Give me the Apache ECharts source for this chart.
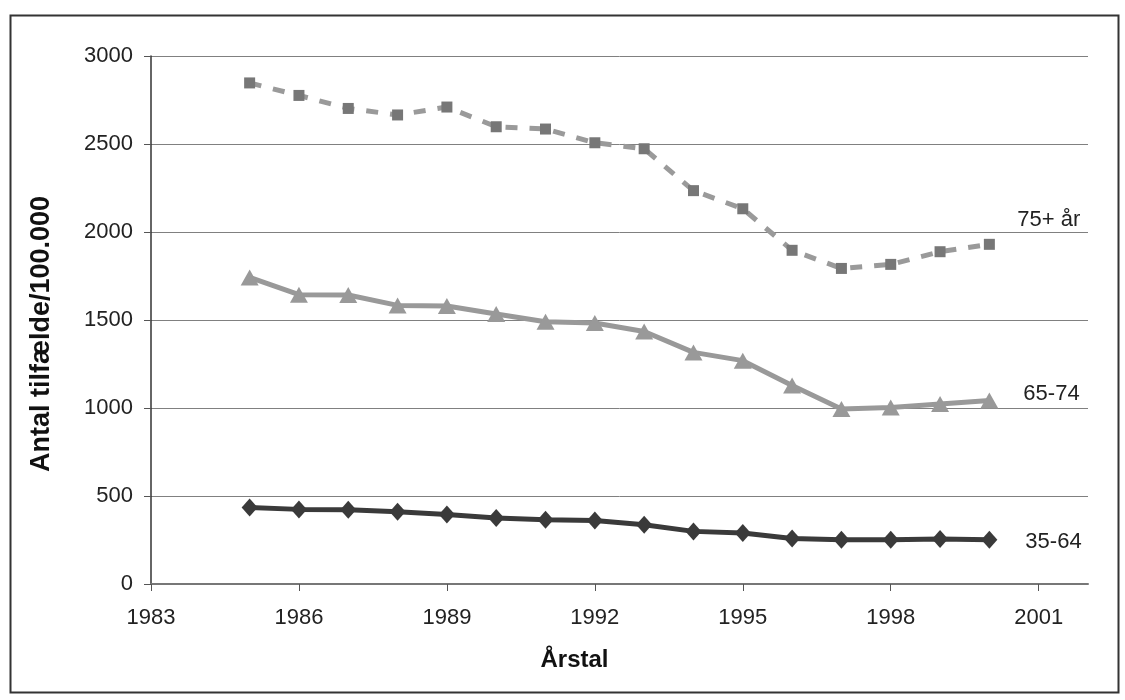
<!DOCTYPE html>
<html>
<head>
<meta charset="utf-8">
<script src="https://cdn.jsdelivr.net/npm/echarts@6/dist/echarts.min.js"></script>
<style>
html,body{margin:0;padding:0;background:#fff;}
#c{width:1125px;height:700px;}
</style>
</head>
<body>
<div id="c"></div>
<script>
var years = [1985,1986,1987,1988,1989,1990,1991,1992,1993,1994,1995,1996,1997,1998,1999,2000];
var age75plus = [2847,2776,2702,2665,2710,2598,2585,2507,2473,2235,2132,1896,1793,1816,1888,1930];
var age65to74 = [1742,1644,1642,1583,1580,1534,1490,1483,1435,1316,1269,1128,994,1003,1023,1043];
var age35to64 = [435,424,422,411,395,375,365,361,337,299,290,259,252,252,256,252];
var seriesNames = ['75+ år','65-74','35-64'];
var xTicks = [1983,1986,1989,1992,1995,1998,2001];
var yTicks = [0,500,1000,1500,2000,2500,3000];

function pairs(v){ return years.map(function(y,i){ return [y, v[i]]; }); }

var font = 'Liberation Sans, Arial, sans-serif';
var chart = echarts.init(document.getElementById('c'), null, {renderer:'canvas'});
chart.setOption({
  animation:false,
  backgroundColor:'#fff',
  graphic:[{type:'rect', left:8, top:13, shape:{width:1108, height:677}, style:{fill:'none', stroke:'#333', lineWidth:2}, silent:true}],
  grid:{left:151, top:56, right:37, bottom:116, containLabel:false},
  xAxis:{
    type:'value', min:1983, max:2002, interval:3,
    name:'Årstal', nameLocation:'middle', nameGap:64,
    nameTextStyle:{fontFamily:font, fontSize:24, fontWeight:'bold', color:'#111', padding:[0,90,0,0]},
    axisLine:{show:true, lineStyle:{color:'#777', width:2}},
    axisTick:{show:true, length:7, inside:false, lineStyle:{color:'#555', width:1}, customValues:xTicks},
    axisLabel:{fontFamily:font, fontSize:22, color:'#222', margin:23, customValues:xTicks, formatter:function(v){return String(v);}},
    splitLine:{show:false}
  },
  yAxis:{
    type:'value', min:0, max:3000, interval:500,
    name:'Antal tilfælde/100.000', nameLocation:'middle', nameGap:96, nameRotate:90,
    nameTextStyle:{fontFamily:font, fontSize:27, fontWeight:'bold', color:'#111', padding:[0,28,0,0]},
    axisLine:{show:true, lineStyle:{color:'#333', width:1.5}},
    axisTick:{show:true, length:7, lineStyle:{color:'#555', width:1}, customValues:yTicks},
    axisLabel:{fontFamily:font, fontSize:22, color:'#222', margin:18, customValues:yTicks, formatter:function(v){return String(v);}},
    splitLine:{show:true, lineStyle:{color:'#808080', width:1}}
  },
  series:[
    {
      name:seriesNames[0], type:'line', data:pairs(age75plus),
      symbol:'rect', symbolSize:11,
      lineStyle:{color:'#9a9a9a', width:5, type:[12,12]},
      itemStyle:{color:'#777777'},
      endLabel:{show:true, formatter:seriesNames[0], fontFamily:font, fontSize:22, color:'#222', offset:[20,-24]},
      z:2
    },
    {
      name:seriesNames[1], type:'line', data:pairs(age65to74),
      symbol:'triangle', symbolSize:[18,16],
      lineStyle:{color:'#999999', width:5},
      itemStyle:{color:'#999999'},
      endLabel:{show:true, formatter:seriesNames[1], fontFamily:font, fontSize:22, color:'#222', offset:[26,-6]},
      z:3
    },
    {
      name:seriesNames[2], type:'line', data:pairs(age35to64),
      symbol:'diamond', symbolSize:[16,18],
      lineStyle:{color:'#3a3a3a', width:5},
      itemStyle:{color:'#3a3a3a'},
      endLabel:{show:true, formatter:seriesNames[2], fontFamily:font, fontSize:22, color:'#222', offset:[28,2]},
      z:4
    }
  ]
});
</script>
</body>
</html>
